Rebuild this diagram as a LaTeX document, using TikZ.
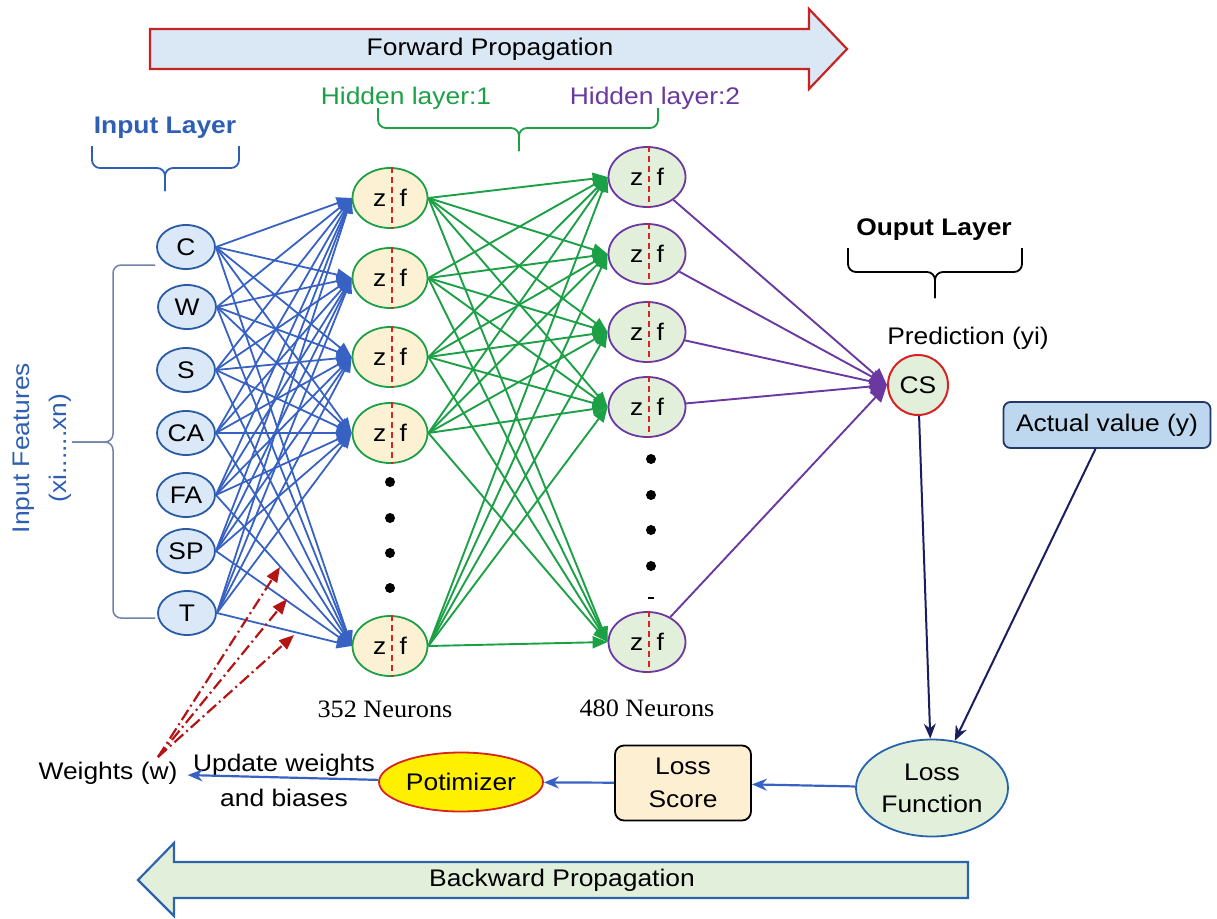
\documentclass[tikz,border=0pt]{standalone}
\usepackage{fontspec}
\setmainfont[FakeStretch=1.1]{Liberation Sans}
\newfontfamily\serifneu[FakeStretch=1.05]{Liberation Serif}
\usetikzlibrary{arrows.meta,shapes.geometric,calc}
\definecolor{inFill}{RGB}{219,232,247}
\definecolor{inDraw}{RGB}{40,90,165}
\definecolor{blueLn}{RGB}{55,98,195}
\definecolor{greenLn}{RGB}{28,160,70}
\definecolor{purpLn}{RGB}{106,56,160}
\definecolor{hOneFill}{RGB}{253,241,212}
\definecolor{hTwoFill}{RGB}{226,239,218}
\definecolor{redLn}{RGB}{215,35,35}
\definecolor{dashRed}{RGB}{180,20,20}
\definecolor{fwdFill}{RGB}{218,232,245}
\definecolor{fwdDraw}{RGB}{200,35,35}
\definecolor{bwdFill}{RGB}{226,239,218}
\definecolor{bwdDraw}{RGB}{46,100,175}
\definecolor{navyLn}{RGB}{25,30,95}
\definecolor{actFill}{RGB}{189,215,238}
\definecolor{actDraw}{RGB}{35,55,105}
\definecolor{lossDraw}{RGB}{40,100,170}
\definecolor{scoreFill}{RGB}{253,240,210}
\definecolor{txtBlue}{RGB}{46,95,180}
\definecolor{braceGray}{RGB}{110,130,170}
\definecolor{potYellow}{RGB}{255,240,0}
\tikzset{
  lbl/.style={font=\fontsize{24}{28}\selectfont, inner sep=0pt},
  inp/.style={ellipse, draw=inDraw, fill=inFill, line width=1.8pt, minimum width=58, minimum height=44, inner sep=0pt, font=\fontsize{24}{28}\selectfont},
  hone/.style={ellipse, draw=greenLn, fill=hOneFill, line width=1.8pt, minimum width=75, minimum height=60, inner sep=0pt, font=\fontsize{24}{28}\selectfont},
  htwo/.style={ellipse, draw=purpLn, fill=hTwoFill, line width=1.8pt, minimum width=77, minimum height=60, inner sep=0pt, font=\fontsize{24}{28}\selectfont},
  zdash/.style={draw=redLn, line width=1.6pt, dash pattern=on 6pt off 4pt},
  blline/.style={draw=blueLn, line width=1.8pt, -{Triangle[length=15pt,width=12pt]}},
  grline/.style={draw=greenLn, line width=1.9pt, -{Triangle[length=15pt,width=12pt]}},
  puline/.style={draw=purpLn, line width=1.9pt, -{Triangle[length=17pt,width=15pt]}},
  backarrow/.style={draw=blueLn, line width=2.2pt, -{Stealth[length=15pt,width=12pt]}},
  navyarrow/.style={draw=navyLn, line width=2pt, -{Stealth[length=15pt,width=12pt]}},
  wtarrow/.style={draw=dashRed, line width=2.2pt, dash pattern=on 12pt off 4pt on 2pt off 4pt, -{Triangle[length=15pt,width=12pt]}},
  bracket/.style={line width=1.8pt, rounded corners=8pt},
}
\begin{document}
\begin{tikzpicture}[x=1pt,y=-1pt]
\useasboundingbox (0,0) rectangle (1217,918);

% forward / backward arrows
\draw[fill=fwdFill, draw=fwdDraw, line width=2.2pt] (150,29) -- (809,29) -- (809,9) -- (847,49) -- (809,89) -- (809,69) -- (150,69) -- cycle;
\node[lbl] (fwd) at (490,49) {Forward Propagation};
\draw[fill=bwdFill, draw=bwdDraw, line width=2.2pt] (968,862) -- (174,862) -- (174,843) -- (138,880) -- (174,916) -- (174,898) -- (968,898) -- cycle;
\node[lbl] (bwd) at (562,880) {Backward Propagation};

% layer titles and brackets
\node[lbl, text=greenLn] (hl1) at (406,98) {Hidden layer:1};
\node[lbl, text=purpLn] (hl2) at (655,98) {Hidden layer:2};
\draw[bracket, draw=greenLn] (378,108) -- (378,128) -- (519,128) -- (519,151);
\draw[bracket, draw=greenLn] (658,108) -- (658,128) -- (519,128) -- (519,151);

\node[lbl, text=txtBlue, font=\fontsize{24}{28}\selectfont\bfseries] (inl) at (165,128) {Input Layer};
\draw[bracket, draw=txtBlue] (92,146) -- (92,168) -- (165,168) -- (165,191);
\draw[bracket, draw=txtBlue] (239,146) -- (239,168) -- (165,168) -- (165,191);

\node[lbl, font=\fontsize{24}{28}\selectfont\bfseries] (oul) at (934,230) {Ouput Layer};
\draw[bracket, draw=black] (848,248) -- (848,272) -- (935,272) -- (935,298);
\draw[bracket, draw=black] (1022,248) -- (1022,272) -- (935,272) -- (935,298);

\draw[bracket, draw=braceGray, line width=1.5pt] (155,265) -- (113,265) -- (113,442) -- (72,442);
\draw[bracket, draw=braceGray, line width=1.5pt] (155,618) -- (113,618) -- (113,442) -- (72,442);
\node[lbl, text=txtBlue, rotate=90] (ift) at (24,448) {Input Features};
\node[lbl, text=txtBlue, rotate=90] (ifx) at (60,448) {(xi......xn)};

% input nodes
\node[inp] (i1) at (186,247) {C};
\node[inp] (i2) at (187,307) {W};
\node[inp] (i3) at (186,370) {S};
\node[inp] (i4) at (186,433) {CA};
\node[inp] (i5) at (186,495) {FA};
\node[inp] (i6) at (186,551) {SP};
\node[inp] (i7) at (187,613) {T};

% hidden layer 1
\foreach \n/\y in {1/198,2/278,3/357,4/433,5/646}{
  \node[hone] (a\n) at (390,\y) {z\hspace{0.55em}f};
  \draw[zdash] ($(a\n.north)+(2,0)$) -- ($(a\n.south)+(2,0)$);
}
\foreach \y in {482,518,553,588}{\fill (390,\y) circle[radius=5pt];}

% hidden layer 2
\foreach \n/\y in {1/177,2/254,3/332,4/407,5/642}{
  \node[htwo] (b\n) at (647,\y) {z\hspace{0.55em}f};
  \draw[zdash] ($(b\n.north)+(2,0)$) -- ($(b\n.south)+(2,0)$);
}
\foreach \y in {459,495,530,566}{\fill (651,\y) circle[radius=5pt];}
\draw[line width=1.5pt] (648,598) -- (654,598);

\node[lbl, font=\serifneu\fontsize{25}{28}\selectfont] (n1) at (385,709) {352 Neurons};
\node[lbl, font=\serifneu\fontsize{25}{28}\selectfont] (n2) at (647,708) {480 Neurons};

% output
\node[circle, draw=redLn, fill=hTwoFill, line width=2pt, minimum size=60, inner sep=0pt, font=\fontsize{24}{28}\selectfont] (cs) at (918,385) {CS};
\node[lbl] (pred) at (968,338) {Prediction (yi)};
\node[rectangle, rounded corners=7pt, draw=actDraw, fill=actFill, line width=1.8pt, minimum width=207, minimum height=46, font=\fontsize{24}{28}\selectfont] (act) at (1107,425) {Actual value (y)};

% bottom row
\node[ellipse, draw=lossDraw, fill=hTwoFill, line width=1.8pt, minimum width=152, minimum height=97, inner sep=0pt, align=center, font=\fontsize{24}{32}\selectfont] (lf) at (932,788) {Loss\\Function};
\node[rectangle, rounded corners=9pt, draw=black, fill=scoreFill, line width=1.8pt, minimum width=136, minimum height=75, inner sep=0pt, align=center, font=\fontsize{24}{33}\selectfont] (ls) at (683,783) {Loss\\Score};
\node[ellipse, draw=redLn, fill=potYellow, line width=1.8pt, minimum width=164, minimum height=59, inner sep=0pt, font=\fontsize{24}{28}\selectfont] (pot) at (461,782) {Potimizer};
\node[lbl, align=center, font=\fontsize{24}{35}\selectfont] (upd) at (284,780) {Update weights\\and biases};
\node[lbl] (wts) at (108,773) {Weights (w)};

% connectors: input -> hidden1
\foreach \i in {1,...,7}{
  \foreach \j in {1,...,5}{
    \draw[blline] (i\i.east) -- (a\j.west);
  }
}
% hidden1 -> hidden2
\foreach \i in {1,...,5}{
  \foreach \j in {1,...,5}{
    \draw[grline] (a\i.east) -- (b\j.west);
  }
}
% hidden2 -> output
\foreach \j in {1,...,5}{
  \draw[puline] (b\j) -- (cs.west);
}

% loss path
\draw[navyarrow] (cs) -- (lf);
\draw[navyarrow] (act) -- (lf);
\draw[backarrow] (lf) -- (ls);
\draw[backarrow] (ls) -- (pot);
\draw[backarrow, shorten >=10pt] (pot) -- (wts);

% weight update arrows
\coordinate (wsrc) at (158,757);
\coordinate (r1) at (280,567);
\coordinate (r2) at (287,599);
\coordinate (r3) at (294,635);
\draw[wtarrow] (wsrc) -- (r1);
\draw[wtarrow] (wsrc) -- (r2);
\draw[wtarrow] (wsrc) -- (r3);
\end{tikzpicture}
\end{document}
